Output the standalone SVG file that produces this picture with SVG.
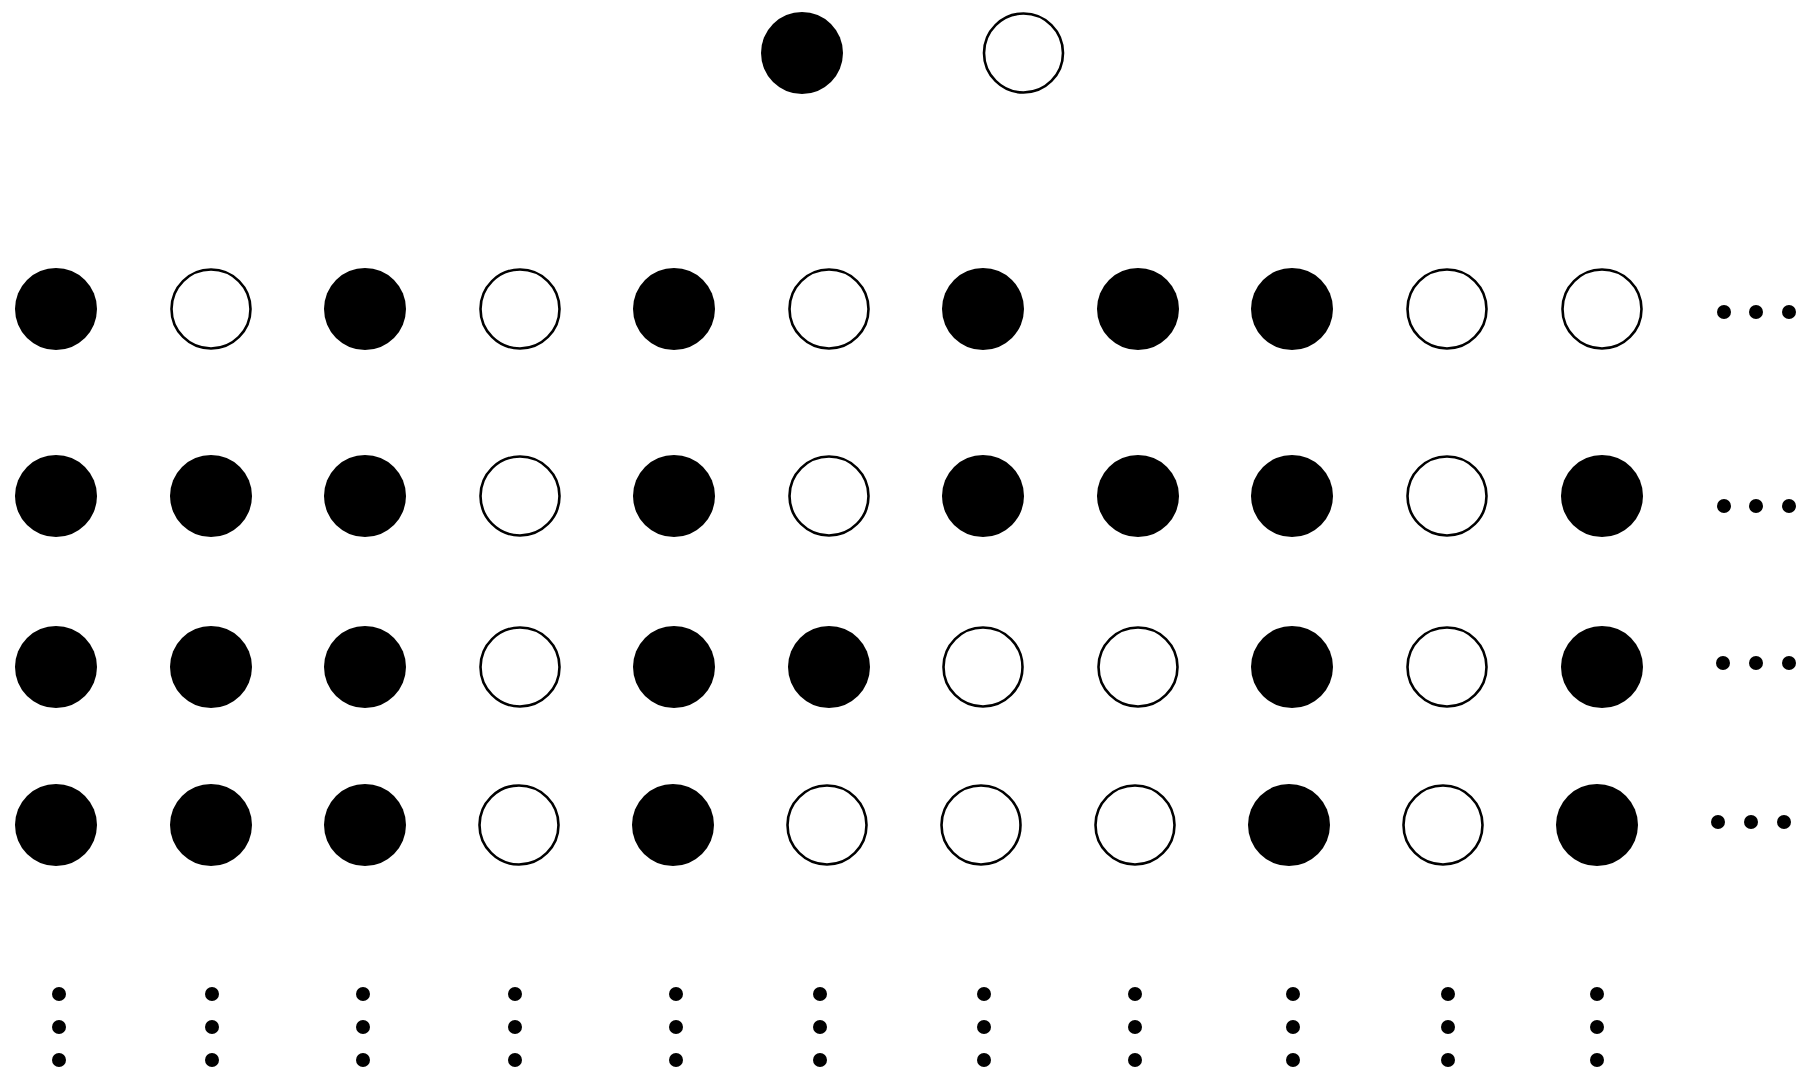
<svg xmlns="http://www.w3.org/2000/svg" width="1801" height="1070" viewBox="0 0 1801 1070">
<style>
.f{fill:#000}
.h{fill:#fff;stroke:#000;stroke-width:2.6}
.d{fill:#000}
</style>
<rect width="1801" height="1070" fill="#fff"/>
<g id="top">
<circle class="f" cx="802" cy="53" r="41"/>
<circle class="h" cx="1023.5" cy="53" r="39.5"/>
</g>
<g id="row1">
<circle class="f" cx="56" cy="309" r="41"/>
<circle class="h" cx="211" cy="309" r="39.5"/>
<circle class="f" cx="365" cy="309" r="41"/>
<circle class="h" cx="520" cy="309" r="39.5"/>
<circle class="f" cx="674" cy="309" r="41"/>
<circle class="h" cx="829" cy="309" r="39.5"/>
<circle class="f" cx="983" cy="309" r="41"/>
<circle class="f" cx="1138" cy="309" r="41"/>
<circle class="f" cx="1292" cy="309" r="41"/>
<circle class="h" cx="1447" cy="309" r="39.5"/>
<circle class="h" cx="1602" cy="309" r="39.5"/>
<circle class="d" cx="1724" cy="312" r="7"/>
<circle class="d" cx="1756" cy="312" r="7"/>
<circle class="d" cx="1789" cy="312" r="7"/>
</g>
<g id="row2">
<circle class="f" cx="56" cy="496" r="41"/>
<circle class="f" cx="211" cy="496" r="41"/>
<circle class="f" cx="365" cy="496" r="41"/>
<circle class="h" cx="520" cy="496" r="39.5"/>
<circle class="f" cx="674" cy="496" r="41"/>
<circle class="h" cx="829" cy="496" r="39.5"/>
<circle class="f" cx="983" cy="496" r="41"/>
<circle class="f" cx="1138" cy="496" r="41"/>
<circle class="f" cx="1292" cy="496" r="41"/>
<circle class="h" cx="1447" cy="496" r="39.5"/>
<circle class="f" cx="1602" cy="496" r="41"/>
<circle class="d" cx="1724" cy="506" r="7"/>
<circle class="d" cx="1756" cy="506" r="7"/>
<circle class="d" cx="1789" cy="506" r="7"/>
</g>
<g id="row3">
<circle class="f" cx="56" cy="667" r="41"/>
<circle class="f" cx="211" cy="667" r="41"/>
<circle class="f" cx="365" cy="667" r="41"/>
<circle class="h" cx="520" cy="667" r="39.5"/>
<circle class="f" cx="674" cy="667" r="41"/>
<circle class="f" cx="829" cy="667" r="41"/>
<circle class="h" cx="983" cy="667" r="39.5"/>
<circle class="h" cx="1138" cy="667" r="39.5"/>
<circle class="f" cx="1292" cy="667" r="41"/>
<circle class="h" cx="1447" cy="667" r="39.5"/>
<circle class="f" cx="1602" cy="667" r="41"/>
<circle class="d" cx="1723" cy="663" r="7"/>
<circle class="d" cx="1756" cy="663" r="7"/>
<circle class="d" cx="1789" cy="663" r="7"/>
</g>
<g id="row4">
<circle class="f" cx="56" cy="825" r="41"/>
<circle class="f" cx="211" cy="825" r="41"/>
<circle class="f" cx="365" cy="825" r="41"/>
<circle class="h" cx="519" cy="825" r="39.5"/>
<circle class="f" cx="673" cy="825" r="41"/>
<circle class="h" cx="827" cy="825" r="39.5"/>
<circle class="h" cx="981" cy="825" r="39.5"/>
<circle class="h" cx="1135" cy="825" r="39.5"/>
<circle class="f" cx="1289" cy="825" r="41"/>
<circle class="h" cx="1443" cy="825" r="39.5"/>
<circle class="f" cx="1597" cy="825" r="41"/>
<circle class="d" cx="1718" cy="822" r="7"/>
<circle class="d" cx="1751" cy="822" r="7"/>
<circle class="d" cx="1784" cy="822" r="7"/>
</g>
<g id="vdots">
<g id="vd1"><circle class="d" cx="59" cy="994" r="7"/><circle class="d" cx="59" cy="1027" r="7"/><circle class="d" cx="59" cy="1060" r="7"/></g>
<g id="vd2"><circle class="d" cx="212" cy="994" r="7"/><circle class="d" cx="212" cy="1027" r="7"/><circle class="d" cx="212" cy="1060" r="7"/></g>
<g id="vd3"><circle class="d" cx="363" cy="994" r="7"/><circle class="d" cx="363" cy="1027" r="7"/><circle class="d" cx="363" cy="1060" r="7"/></g>
<g id="vd4"><circle class="d" cx="515" cy="994" r="7"/><circle class="d" cx="515" cy="1027" r="7"/><circle class="d" cx="515" cy="1060" r="7"/></g>
<g id="vd5"><circle class="d" cx="676" cy="994" r="7"/><circle class="d" cx="676" cy="1027" r="7"/><circle class="d" cx="676" cy="1060" r="7"/></g>
<g id="vd6"><circle class="d" cx="820" cy="994" r="7"/><circle class="d" cx="820" cy="1027" r="7"/><circle class="d" cx="820" cy="1060" r="7"/></g>
<g id="vd7"><circle class="d" cx="984" cy="994" r="7"/><circle class="d" cx="984" cy="1027" r="7"/><circle class="d" cx="984" cy="1060" r="7"/></g>
<g id="vd8"><circle class="d" cx="1135" cy="994" r="7"/><circle class="d" cx="1135" cy="1027" r="7"/><circle class="d" cx="1135" cy="1060" r="7"/></g>
<g id="vd9"><circle class="d" cx="1293" cy="994" r="7"/><circle class="d" cx="1293" cy="1027" r="7"/><circle class="d" cx="1293" cy="1060" r="7"/></g>
<g id="vd10"><circle class="d" cx="1448" cy="994" r="7"/><circle class="d" cx="1448" cy="1027" r="7"/><circle class="d" cx="1448" cy="1060" r="7"/></g>
<g id="vd11"><circle class="d" cx="1597" cy="994" r="7"/><circle class="d" cx="1597" cy="1027" r="7"/><circle class="d" cx="1597" cy="1060" r="7"/></g>
</g>
<g id="connectors"/>
</svg>
